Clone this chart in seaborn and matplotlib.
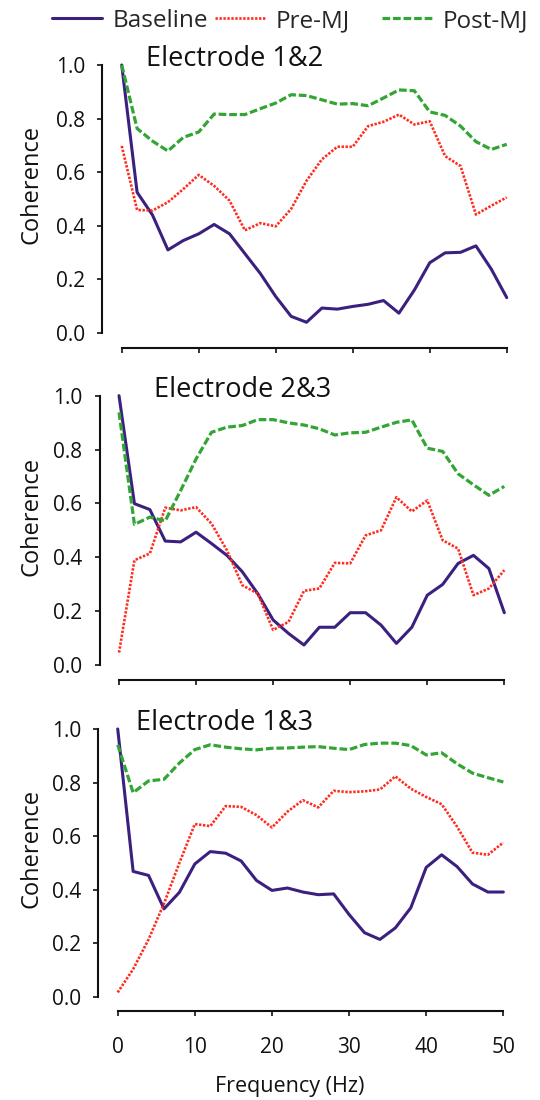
import numpy as np
import pandas as pd
import matplotlib
matplotlib.use("Agg")
import matplotlib.pyplot as plt
from matplotlib.lines import Line2D
import seaborn as sns

# ---------------- data ----------------
freq = [0, 2, 4, 6, 8, 10, 12, 14, 16, 18, 20, 22, 24, 26, 28, 30,
        32, 34, 36, 38, 40, 42, 44, 46, 48, 50]

conditions = ["Baseline", "Pre-MJ", "Post-MJ"]
panel_titles = ["Electrode 1&2", "Electrode 2&3", "Electrode 1&3"]

e12_baseline = [1.00, 0.525, 0.44, 0.31, 0.345, 0.37, 0.405, 0.37, 0.296, 0.222, 0.136,
                0.062, 0.04, 0.093, 0.089, 0.099, 0.107, 0.121, 0.074, 0.16, 0.262,
                0.299, 0.301, 0.325, 0.238, 0.132]
e12_pre = [0.698, 0.459, 0.457, 0.488, 0.537, 0.59, 0.549, 0.494, 0.383, 0.41, 0.398,
           0.463, 0.568, 0.648, 0.695, 0.695, 0.772, 0.788, 0.815, 0.778, 0.79,
           0.66, 0.623, 0.442, 0.475, 0.506]
e12_post = [1.00, 0.763, 0.716, 0.679, 0.73, 0.75, 0.817, 0.815, 0.815, 0.837, 0.858,
            0.889, 0.886, 0.87, 0.854, 0.856, 0.848, 0.877, 0.907, 0.904, 0.825,
            0.812, 0.772, 0.714, 0.685, 0.704]

e23_baseline = [1.00, 0.599, 0.577, 0.46, 0.457, 0.493, 0.451, 0.407, 0.346, 0.265, 0.167,
                0.117, 0.074, 0.14, 0.14, 0.194, 0.194, 0.148, 0.08, 0.14, 0.259,
                0.299, 0.377, 0.407, 0.358, 0.194]
e23_pre = [0.046, 0.389, 0.414, 0.584, 0.574, 0.586, 0.525, 0.426, 0.296, 0.265, 0.13,
           0.16, 0.275, 0.284, 0.379, 0.377, 0.481, 0.50, 0.623, 0.57, 0.611,
           0.463, 0.432, 0.259, 0.284, 0.352]
e23_post = [0.938, 0.522, 0.549, 0.535, 0.648, 0.765, 0.864, 0.883, 0.889, 0.911, 0.911,
            0.899, 0.891, 0.877, 0.854, 0.862, 0.864, 0.883, 0.901, 0.91, 0.805,
            0.793, 0.71, 0.669, 0.63, 0.663]

e13_baseline = [1.00, 0.468, 0.453, 0.328, 0.39, 0.496, 0.542, 0.536, 0.507, 0.434, 0.397,
                0.406, 0.391, 0.381, 0.384, 0.307, 0.239, 0.214, 0.257, 0.332, 0.483,
                0.53, 0.486, 0.421, 0.391, 0.391]
e13_pre = [0.016, 0.103, 0.214, 0.348, 0.50, 0.645, 0.637, 0.712, 0.709, 0.678, 0.632,
           0.691, 0.734, 0.707, 0.769, 0.764, 0.767, 0.774, 0.823, 0.777, 0.746,
           0.719, 0.635, 0.538, 0.53, 0.576]
e13_post = [0.941, 0.762, 0.806, 0.812, 0.873, 0.923, 0.941, 0.932, 0.926, 0.922, 0.928,
            0.929, 0.932, 0.934, 0.928, 0.923, 0.942, 0.947, 0.947, 0.938, 0.903,
            0.911, 0.87, 0.835, 0.818, 0.802]

x_ticks = [0, 10, 20, 30, 40, 50]
y_ticks = [0.0, 0.2, 0.4, 0.6, 0.8, 1.0]

panels = [
    (panel_titles[0], e12_baseline, e12_pre, e12_post),
    (panel_titles[1], e23_baseline, e23_pre, e23_post),
    (panel_titles[2], e13_baseline, e13_pre, e13_post),
]

# ---------------- style ----------------
sns.set_style("ticks")
plt.rcParams["font.family"] = ["Open Sans", "DejaVu Sans"]

palette = {"Baseline": "#3b2080", "Pre-MJ": "#ff2b1e", "Post-MJ": "#33a534"}
dashes = {"Baseline": "", "Pre-MJ": (0.9, 0.6), "Post-MJ": (2.4, 0.9)}
sizes = {"Baseline": 2.2, "Pre-MJ": 1.9, "Post-MJ": 2.3}

fig = plt.figure(figsize=(5.4, 11), dpi=100)

# axes rectangles in figure fraction (left, bottom, width, height)
rects = [
    [0.2254, 0.6973, 0.7130, 0.2436],
    [0.2204, 0.3955, 0.7135, 0.2448],
    [0.2180, 0.0939, 0.7141, 0.2434],
]
title_x = [3.1, 4.5, 2.4]
ylabel_x = [-0.203, -0.196, -0.192]
INK = "#111111"

for i, (title, base, pre, post) in enumerate(panels):
    ax = fig.add_axes(rects[i])
    df = pd.DataFrame({
        "Frequency": freq * 3,
        "Coherence": list(base) + list(pre) + list(post),
        "Condition": ["Baseline"] * len(freq) + ["Pre-MJ"] * len(freq) + ["Post-MJ"] * len(freq),
    })
    sns.lineplot(data=df, x="Frequency", y="Coherence", hue="Condition",
                 style="Condition", size="Condition",
                 hue_order=conditions, style_order=conditions, size_order=conditions,
                 palette=palette, dashes=dashes, sizes=sizes,
                 legend=False, ax=ax, clip_on=False)

    ax.set_xlim(0, 50)
    ax.set_ylim(0, 1)
    ax.set_xticks(x_ticks)
    ax.set_yticks(y_ticks)
    ax.yaxis.set_major_formatter(matplotlib.ticker.FormatStrFormatter("%.1f"))
    for s in ["top", "right"]:
        ax.spines[s].set_visible(False)
    ax.spines["left"].set_position(("outward", 14))
    ax.spines["bottom"].set_position(("outward", 10.5))
    for s in ["left", "bottom"]:
        ax.spines[s].set_linewidth(1.5)
        ax.spines[s].set_color(INK)
    ax.tick_params(axis="both", direction="out", length=3.5, width=1.2,
                   color=INK, labelsize=15, labelcolor=INK)
    ax.tick_params(axis="y", pad=9)
    ax.tick_params(axis="x", pad=15)
    ax.set_ylabel("Coherence", fontsize=17, color=INK)
    ax.yaxis.set_label_coords(ylabel_x[i], 0.553)
    if i < 2:
        ax.set_xlabel("")
        ax.tick_params(axis="x", labelbottom=False)
    else:
        ax.set_xlabel("Frequency (Hz)", fontsize=15.5, color=INK)
        ax.xaxis.label.set_va("baseline")
        ax.xaxis.set_label_coords(0.447, -0.355)
    ax.text(title_x[i], 0.995, title, fontsize=19.5, color=INK,
            ha="left", va="baseline")

# legend: three entries placed like the reference
legend_x_px = [52, 215, 382]
for cond, xpx in zip(conditions, legend_x_px):
    h = Line2D([], [], color=palette[cond], linewidth=sizes[cond],
               linestyle="-" if dashes[cond] == "" else (0, dashes[cond]))
    fig.legend([h], [cond], loc="center left", bbox_to_anchor=(xpx / 540, 1 - 21 / 1100),
               frameon=False, fontsize=17.5, handlelength=2.06, handletextpad=0.45,
               borderaxespad=0, borderpad=0)

fig.savefig("out.png", dpi=100)
